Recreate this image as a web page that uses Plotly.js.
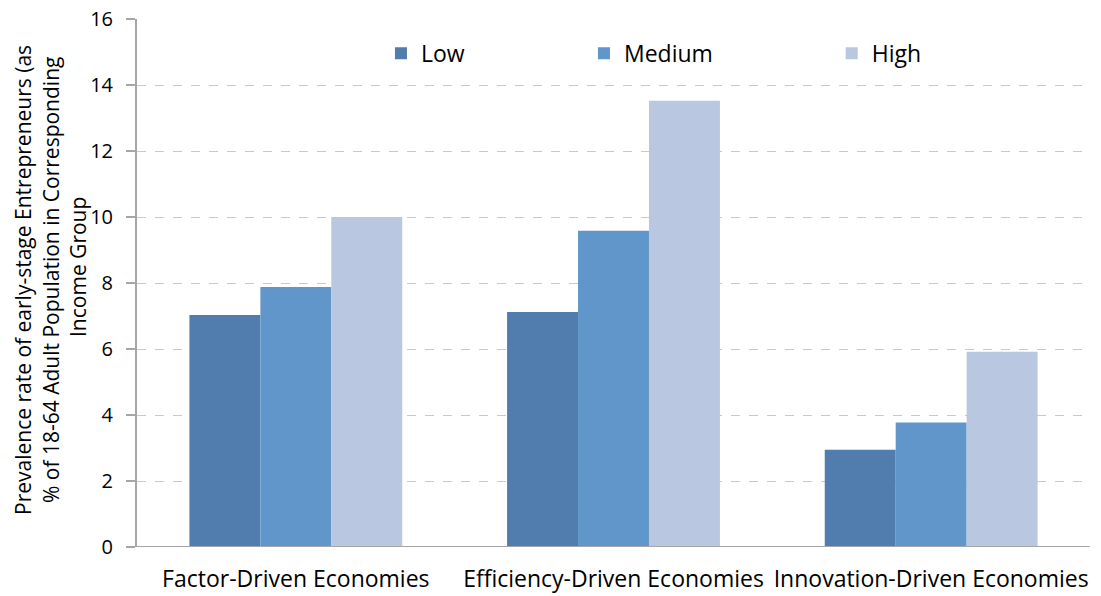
<!DOCTYPE html>
<html><head><meta charset="utf-8">
<script src="https://cdn.plot.ly/plotly-3.0.1.min.js"></script>
<style>body{margin:0;background:#fff}#chart{width:1101px;height:596px}</style>
</head><body><div id="chart"></div>
<script>
const categories = ["Factor-Driven Economies", "Efficiency-Driven Economies", "Innovation-Driven Economies"];
const lowValues = [7.03, 7.12, 2.95];
const mediumValues = [7.88, 9.58, 3.77];
const highValues = [10.0, 13.52, 5.92];
const seriesNames = ["Low", "Medium", "High"];
const yTicks = [0, 2, 4, 6, 8, 10, 12, 14, 16];

const FONT = "'Open Sans', sans-serif";
const colors = ["#507DAD", "#6096C9", "#B9C7E1"];
const vals = [lowValues, mediumValues, highValues];
const legendIds = ["legend", "legend2", "legend3"];

const traces = seriesNames.map((n, i) => ({
  type: "bar", name: n, x: categories, y: vals[i],
  marker: {color: colors[i]}, legend: legendIds[i], hoverinfo: "skip"
}));

const legendBase = {orientation: "h", yanchor: "middle", y: 0.935, xanchor: "left",
  font: {family: FONT, size: 23, color: "#000"}, bgcolor: "rgba(0,0,0,0)",
  itemwidth: 30, tracegroupgap: 0};

const titleFont = {family: FONT, size: 21, color: "#000"};

const layout = {
  width: 1101, height: 596,
  margin: {l: 137, r: 11, t: 19, b: 49},
  paper_bgcolor: "#fff", plot_bgcolor: "#fff",
  barmode: "group", bargap: 0.33, bargroupgap: 0,
  font: {family: FONT, color: "#000"},
  showlegend: true,
  legend: Object.assign({}, legendBase, {x: 0.256}),
  legend2: Object.assign({}, legendBase, {x: 0.469}),
  legend3: Object.assign({}, legendBase, {x: 0.729}),
  xaxis: {
    type: "category", showgrid: false, zeroline: false,
    showline: false, ticks: "", ticklabelstandoff: 16,
    tickfont: {family: FONT, size: 23, color: "#000"}
  },
  yaxis: {
    range: [0, 16], tickvals: yTicks, ticktext: yTicks.map(String),
    showgrid: true, gridcolor: "#C9C9C9", griddash: "dash", gridwidth: 1,
    zeroline: false, showline: true, linecolor: "#A6A6A6", linewidth: 2,
    ticks: "outside", ticklen: 9, tickcolor: "#A6A6A6", tickwidth: 2,
    ticklabelstandoff: 9,
    tickfont: {family: FONT, size: 20, color: "#000"}
  },
  shapes: [{type: "line", xref: "paper", yref: "y", x0: -0.01, x1: 1, y0: 0, y1: 0,
    line: {color: "#A6A6A6", width: 2}}],
  annotations: [
    {text: "Prevalence rate of early-stage Entrepreneurs (as", xref: "paper", yref: "paper",
     x: 0, y: 0.5, xanchor: "center", yanchor: "middle", xshift: -114, yshift: 3, textangle: -90,
     showarrow: false, font: titleFont},
    {text: "% of 18-64 Adult Population in Corresponding", xref: "paper", yref: "paper",
     x: 0, y: 0.5, xanchor: "center", yanchor: "middle", xshift: -86, yshift: 3, textangle: -90,
     showarrow: false, font: titleFont},
    {text: "Income Group", xref: "paper", yref: "paper",
     x: 0, y: 0.5, xanchor: "center", yanchor: "middle", xshift: -59, yshift: 16, textangle: -90,
     showarrow: false, font: titleFont}
  ]
};

Plotly.newPlot("chart", traces, layout, {displayModeBar: false, staticPlot: true});
</script></body></html>
